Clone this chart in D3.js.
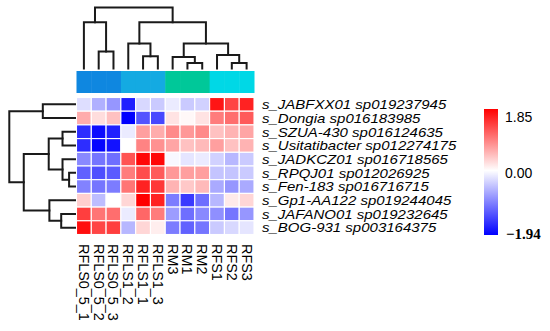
<!DOCTYPE html>
<html>
<head>
<meta charset="utf-8">
<script src="https://cdn.jsdelivr.net/npm/d3@7"></script>
<style>
  html, body { margin: 0; padding: 0; background: #fff; }
  svg { display: block; }
</style>
</head>
<body>
<svg id="chart" width="550" height="331"></svg>
<script>
// ---------------- DATA ----------------
const columns = ["RFLS0_5_1","RFLS0_5_2","RFLS0_5_3","RFLS1_2","RFLS1_1","RFLS1_3","RM3","RM1","RM2","RFS1","RFS2","RFS3"];
const columnGroups = ["RFLS0_5","RFLS0_5","RFLS0_5","RFLS1","RFLS1","RFLS1","RM","RM","RM","RFS","RFS","RFS"];
const groupNames = ["RFLS0_5","RFLS1","RM","RFS"];
const rowsLabels = [
  "s_JABFXX01 sp019237945",
  "s_Dongia sp016183985",
  "s_SZUA-430 sp016124635",
  "s_Usitatibacter sp012274175",
  "s_JADKCZ01 sp016718565",
  "s_RPQJ01 sp012026925",
  "s_Fen-183 sp016716715",
  "s_Gp1-AA122 sp019244045",
  "s_JAFANO01 sp019232645",
  "s_BOG-931 sp003164375"
];
// z-scores, one array per row, in column order above
const rowJABFXX01     = [-0.25,-0.6,-0.8,-1.7,-0.3,-0.4,-0.15,-0.4,-0.35,1.7,1.35,1.6];
const rowDongia       = [0.6,0.25,0.45,-1.94,-1.3,-1.4,0.2,0.05,0.2,0.95,1.05,1.2];
const rowSZUA430      = [-1.6,-1.85,-1.7,-0.15,0.7,0.6,0.85,0.75,0.85,0.45,0.55,0.65];
const rowUsitatibacter= [-1.6,-1.9,-1.8,0.0,0.9,0.8,0.65,0.45,0.5,0.7,0.45,0.55];
const rowJADKCZ01     = [-0.9,-1.05,-1.1,1.25,1.8,1.8,-0.05,-0.2,-0.15,-0.35,-0.55,-0.4];
const rowRPQJ01       = [-1.2,-1.35,-1.25,0.95,1.3,1.2,0.75,0.7,0.7,-0.45,-0.45,-0.4];
const rowFen183       = [-0.95,-1.05,-1.0,1.0,1.6,1.45,0.55,0.4,0.5,-0.65,-0.8,-0.65];
const rowGp1AA122     = [0.35,-0.5,0.0,0.3,1.85,1.6,-1.0,-1.5,-1.1,-0.55,0.15,0.3];
const rowJAFANO01     = [1.4,1.0,1.05,-0.15,1.1,0.95,-0.75,-1.1,-0.9,-0.85,-1.05,-0.8];
const rowBOG931       = [1.75,1.35,1.4,-0.55,0.3,0.12,-1.0,-1.2,-1.05,-0.4,-0.3,-0.2];
const values = [rowJABFXX01,rowDongia,rowSZUA430,rowUsitatibacter,rowJADKCZ01,rowRPQJ01,rowFen183,rowGp1AA122,rowJAFANO01,rowBOG931];

// hclust-style merges: negative = leaf (1-based), positive = earlier merge (1-based); third = height
const rowMerges = [
  [-6,-7,0.09],[-3,-4,0.19],[-5,1,0.19],[-9,-10,0.21],[-8,4,0.39],
  [2,3,0.40],[-1,-2,0.49],[6,5,0.78],[7,8,1.0]
];
const colMerges = [
  [-8,-9,0.09],[-11,-12,0.09],[-7,1,0.19],[-5,-6,0.20],[-10,2,0.22],
  [-2,-3,0.28],[-4,4,0.41],[3,5,0.41],[-1,6,0.76],[7,8,0.76],[9,10,1.0]
];
const legendMin = -1.94, legendMid = 0.00, legendMax = 1.85;
const legendTicks = [1.85, 0.00, -1.94];

// ---------------- STYLE ----------------
const groupColors = ["#0f87e0","#14aae2","#00c899","#00d8e6"];
const lineColor = "#1a1a1a";

const svg = d3.select("#chart");
svg.append("rect").attr("width",550).attr("height",331).attr("fill","#fff");

const x = d3.scaleBand().domain(columns).range([76.5, 254]);
const y = d3.scaleBand().domain(rowsLabels).range([97.5, 234.5]);
const color = d3.scaleLinear().domain([legendMin, legendMid, legendMax])
  .range(["#0000ff","#ffffff","#ff0000"]).clamp(true);

// heatmap cells
const cells = [];
values.forEach((r,i)=> r.forEach((v,j)=> cells.push({row: rowsLabels[i], col: columns[j], v})));
svg.append("g").selectAll("rect").data(cells).join("rect")
  .attr("x", d=>x(d.col)).attr("y", d=>y(d.row))
  .attr("width", x.bandwidth()).attr("height", y.bandwidth())
  .attr("fill", d=>color(d.v))
  .attr("stroke","#fff").attr("stroke-width",1.1);

// annotation bar
const groupScale = d3.scaleOrdinal().domain(groupNames).range(groupColors);
svg.append("g").selectAll("rect").data(columns).join("rect")
  .attr("x", (d)=>x(d)).attr("y", 71)
  .attr("width", x.bandwidth()+0.5).attr("height", 22)
  .attr("fill", (d,i)=>groupScale(columnGroups[i]));

// dendrogram helper
function buildNodes(merges, leafPos){
  const nodes = [];
  function get(k){ return k < 0 ? {pos: leafPos(-k-1), h: 0} : nodes[k-1]; }
  merges.forEach(([a,b,h])=>{
    const A = get(a), B = get(b);
    nodes.push({pos:(A.pos+B.pos)/2, h, A, B});
  });
  return nodes;
}
// column dendrogram (vertical)
const colH = d3.scaleLinear().domain([0,1]).range([68.5, 7.5]);
const colNodes = buildNodes(colMerges, i => x(columns[i]) + x.bandwidth()/2);
const gCol = svg.append("g").attr("stroke", lineColor).attr("stroke-width", 2).attr("fill","none").attr("stroke-linecap","square");
colNodes.forEach(n=>{
  const p = `M${n.A.pos},${colH(n.A.h)}V${colH(n.h)}H${n.B.pos}V${colH(n.B.h)}`;
  gCol.append("path").attr("d", p);
});
// row dendrogram (horizontal)
const rowH = d3.scaleLinear().domain([0,1]).range([75, 9.3]);
const rowNodes = buildNodes(rowMerges, i => y(rowsLabels[i]) + y.bandwidth()/2);
const gRow = svg.append("g").attr("stroke", lineColor).attr("stroke-width", 2).attr("fill","none").attr("stroke-linecap","square");
rowNodes.forEach(n=>{
  const p = `M${rowH(n.A.h)},${n.A.pos}H${rowH(n.h)}V${n.B.pos}H${rowH(n.B.h)}`;
  gRow.append("path").attr("d", p);
});

// row labels
svg.append("g").selectAll("text").data(rowsLabels).join("text")
  .attr("transform", d=>`translate(262,${y(d)+y.bandwidth()/2}) scale(1.12,1)`)
  .attr("dy","0.36em")
  .attr("font-family","'Liberation Sans', Arial, sans-serif")
  .attr("font-style","italic")
  .attr("font-size",13.4)
  .attr("fill","#000")
  .text(d=>d);

// column labels
svg.append("g").selectAll("text").data(columns).join("text")
  .attr("transform", d=>`translate(${x(d)+x.bandwidth()/2},244) rotate(90)`)
  .attr("dy","0.35em")
  .attr("font-family","'Liberation Sans', Arial, sans-serif")
  .attr("font-size",14.4)
  .attr("fill","#000")
  .text(d=>d);

// legend
const legY = d3.scaleLinear().domain([legendMin, legendMax]).range([235, 109]);
const defs = svg.append("defs");
const grad = defs.append("linearGradient").attr("id","lg").attr("x1",0).attr("y1",1).attr("x2",0).attr("y2",0);
[legendMin, legendMid, legendMax].forEach(v=>{
  grad.append("stop").attr("offset", (v-legendMin)/(legendMax-legendMin)).attr("stop-color", color(v));
});
svg.append("rect").attr("x",484).attr("y",legY(legendMax)).attr("width",14)
  .attr("height", legY(legendMin)-legY(legendMax)).attr("fill","url(#lg)");
const tickOffset = {"1.85": 8, "0.00": 2, "-1.94": -1.5};
svg.append("g").selectAll("text").data(legendTicks).join("text")
  .attr("x", d=> d < 0 ? 506 : 505)
  .attr("y", d=> legY(d) + tickOffset[d.toFixed(2)])
  .attr("dy","0.36em")
  .attr("font-family", d=> d < 0 ? "'Liberation Serif', 'Times New Roman', serif" : "'Liberation Sans', Arial, sans-serif")
  .attr("font-weight", d=> d < 0 ? "bold" : "normal")
  .attr("font-size", d=> d < 0 ? 15 : 14)
  .attr("fill","#000")
  .text(d=> d < 0 ? "\u2212" + Math.abs(d).toFixed(2) : d.toFixed(2));
</script>
</body>
</html>
